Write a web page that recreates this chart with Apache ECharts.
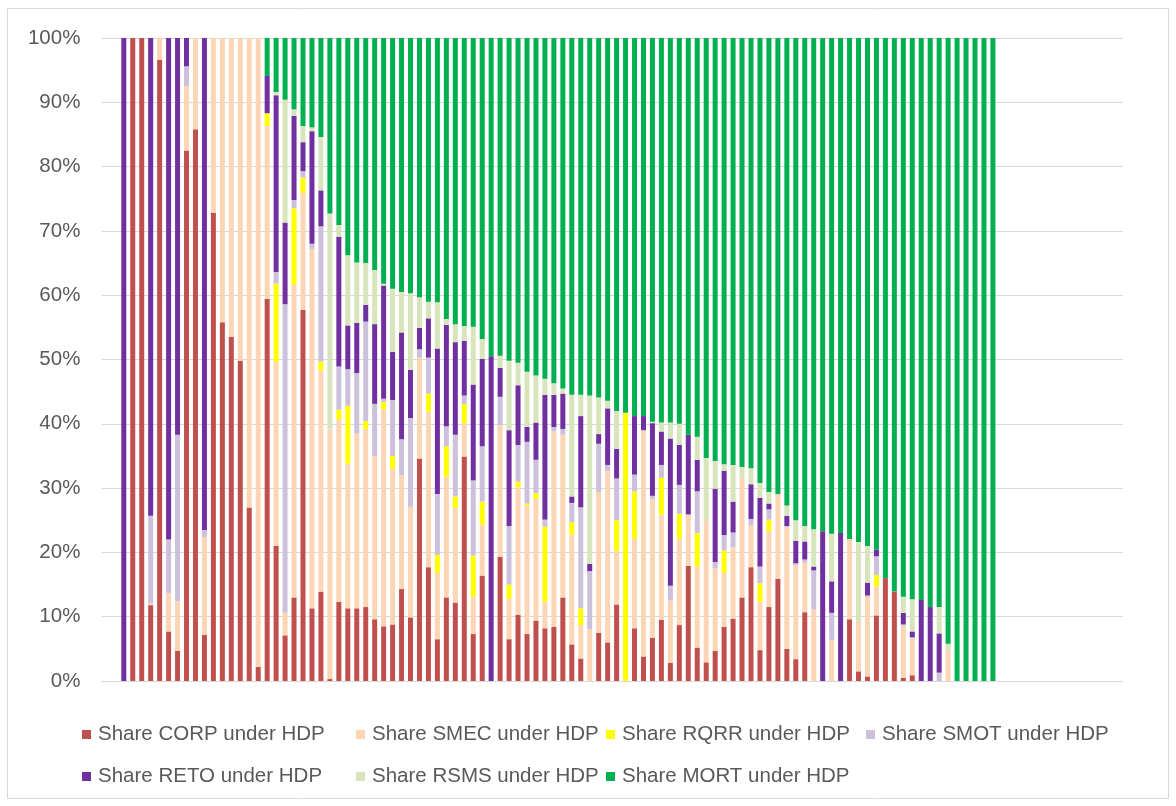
<!DOCTYPE html>
<html>
<head>
<meta charset="utf-8">
<script src="https://cdn.jsdelivr.net/npm/echarts@6/dist/echarts.min.js"></script>
<style>
html,body{margin:0;padding:0;background:#fff;}
#chart{width:1176px;height:806px;}
</style>
</head>
<body>
<div id="chart"></div>
<script>
// Series names (legend)
const seriesNames = ['Share CORP under HDP','Share SMEC under HDP','Share RQRR under HDP','Share SMOT under HDP','Share RETO under HDP','Share RSMS under HDP','Share MORT under HDP'];
const seriesColors = ['#C0504D','#FCD5B5','#FFFF00','#CCC0DA','#7030A0','#D8E4BC','#00B050'];
const yTicks = ['0%','10%','20%','30%','40%','50%','60%','70%','80%','90%','100%'];

// Values in percent, one entry per bar (98 bars)
const corp = [0,100,100,11.8,96.6,7.7,4.7,82.5,85.8,7.2,
  72.8,55.8,53.5,49.8,27.0,2.2,59.4,21.0,7.1,13.0,
  57.7,11.3,13.9,0.3,12.3,11.3,11.3,11.5,9.6,8.5,
  8.8,14.3,9.9,34.6,17.7,6.5,13.0,12.2,34.9,7.3,
  16.4,0,19.3,6.5,10.3,7.3,9.4,8.2,8.4,13.0,
  5.7,3.5,0,7.5,6.0,11.9,0,8.2,3.8,6.7,
  9.5,2.8,8.7,17.9,5.2,2.9,4.7,8.4,9.7,13.0,
  17.7,4.8,11.5,15.9,5.0,3.4,10.7,0,0,0,
  0,9.6,1.5,0.7,10.2,16.0,13.9,0.5,0.9,0,
  0,0,0,0,0,0,0,0];
const smec = [0,0,0,0.3,3.4,6.0,7.7,10.0,14.2,15.2,
  27.2,44.2,46.5,50.2,73.0,97.8,26.9,28.6,3.5,48.6,
  18.2,55.9,34.4,38.8,28.4,22.5,27.2,27.7,25.4,33.7,
  24.2,17.7,17.2,15.7,24.2,10.3,18.8,14.7,5.2,5.8,
  7.9,0,20.5,6.3,19.8,20.0,18.9,4.1,30.4,25.3,
  17.1,5.2,8.1,21.9,26.6,8.3,0,13.9,35.2,21.6,
  16.4,9.7,13.4,8.0,12.6,22.1,12.8,8.4,11.1,18.6,
  6.5,7.5,11.8,13.2,18.9,14.6,7.7,11.1,0,6.4,
  0,12.5,7.7,12.4,4.5,0,0,8.1,5.7,0,
  0,0,4.8,0,0,0,0,0];
const rqrr = [0,0,0,0,0,0,0,0,0,0,
  0,0,0,0,0,0,2.0,12.2,0,11.9,
  2.4,0,1.4,0,1.5,9.0,0,1.2,0,1.2,
  2.0,0,0,0,2.8,2.8,4.7,1.8,3.0,6.4,
  3.6,0,0,2.2,0.9,0.3,0.9,11.7,0,0,
  1.9,2.6,0,0,0,4.8,41.7,7.4,0,0,
  5.7,0,3.9,0,5.2,0,0,3.5,0,0,
  0,2.9,1.8,0,0,0,0,0,0,0,
  0,0,0,0,1.8,0,0,0,0,0,
  0,0,0,0,0,0,0,0];
const smot = [0,0,0,13.6,0,8.3,25.9,3.1,0,1.1,
  0,0,0,0,0,0,0,1.8,48.0,1.3,
  1.0,0.8,21.0,0,6.7,5.7,9.4,15.5,8.1,0.5,
  8.7,5.6,13.8,1.3,5.6,9.5,3.1,9.6,1.3,11.7,
  8.6,0,4.4,9.1,5.7,9.6,5.2,1.1,0.7,0.9,
  3.0,15.7,9.0,7.5,1.0,6.5,0,2.6,0,0.5,
  2.0,2.3,4.5,0,6.5,0,1.0,2.4,2.3,0,
  1.0,2.6,1.6,0,0.2,0.3,0.5,6.1,0,4.2,
  0,0,0,0.2,2.9,0,0,0.2,0.2,0,
  0,1.3,0,0,0,0,0,0];
const reto = [100,0,0,74.3,0,78.0,61.7,4.4,0,76.5,
  0,0,0,0,0,0,5.8,27.5,12.7,13.1,
  4.5,17.5,5.6,0,20.2,6.8,7.8,2.6,12.4,17.6,
  7.5,16.6,7.5,3.3,6.1,22.6,15.8,14.4,8.5,14.9,
  13.6,50.5,4.5,14.9,9.3,2.3,5.8,19.4,5.0,5.5,
  1.0,14.2,1.1,1.5,8.8,4.6,0,9.1,2.2,11.3,
  5.2,22.9,6.2,12.4,4.9,0,11.4,10.0,4.8,0,
  5.4,10.7,0.9,0,1.6,3.5,2.8,0.6,23.3,4.9,
  23.0,0,0,2.0,1.0,0,0,1.8,0.9,12.6,
  11.5,6.1,0,0,0,0,0,0];
const rsms = [0,0,0,0,0,0,0,0,0,0,
  0,0,0,0,0,0,0,0.5,19.1,1.0,
  2.5,0.6,8.3,33.6,1.8,10.9,9.4,6.5,8.4,0.3,
  9.8,6.3,11.9,4.8,2.6,7.2,0.9,2.8,2.3,9.0,
  3.1,0,1.9,10.8,3.5,8.6,7.3,2.5,1.8,0.8,
  15.8,3.3,26.2,5.7,1.2,5.9,0,0,0,0.2,
  1.4,2.5,3.3,0,3.6,9.7,4.3,1.0,5.7,1.7,
  2.5,2.3,1.8,0,1.6,3.2,2.4,5.8,0,7.4,
  0,0,12.4,5.7,0,0,0,2.5,5.0,0,
  0,4.1,1.0,0,0,0,0,0];
const mort = [0,0,0,0,0,0,0,0,0,0,
  0,0,0,0,0,0,5.9,8.4,9.6,11.1,
  13.7,13.9,15.4,27.3,29.1,33.8,34.9,35.0,36.1,38.2,
  39.0,39.5,39.7,40.3,41.0,41.1,43.7,44.5,44.8,44.9,
  46.8,49.5,49.4,50.2,50.5,51.9,52.5,53.0,53.7,54.5,
  55.5,55.5,55.6,55.9,56.4,58.0,58.3,58.8,58.8,59.7,
  59.8,59.8,60.0,61.7,62.0,65.3,65.8,66.3,66.4,66.7,
  66.9,69.2,70.6,70.9,72.7,75.0,75.9,76.4,76.7,77.1,
  77.0,77.9,78.4,79.0,79.6,84.0,86.1,86.9,87.3,87.4,
  88.5,88.5,94.2,100,100,100,100,100];

const seriesValues = [corp, smec, rqrr, smot, reto, rsms, mort];

// category layout: empty slots before and after the bars (as in the source plot)
const LEAD = 2, TRAIL = 14;
const barCats = corp.map((_, i) => 'B' + (i + 1));
const cats = [...Array(LEAD).fill(''), ...barCats, ...Array(TRAIL).fill('')];
const pad = arr => [...Array(LEAD).fill(null), ...arr, ...Array(TRAIL).fill(null)];

const FONT = 'Liberation Sans';
const FS = 20.5;
const TXT = '#595959';

const CW = 8.96;
const gridLeft = 101.4;
const gridRight = 1176 - (gridLeft + cats.length * CW);

const legendPos = [
  {left: 82, top: 724}, {left: 356, top: 724}, {left: 606, top: 724}, {left: 866, top: 724},
  {left: 82, top: 766}, {left: 356, top: 766}, {left: 606, top: 766}
];

const chart = echarts.init(document.getElementById('chart'), null, {renderer: 'canvas'});
chart.setOption({
  animation: false,
  backgroundColor: '#ffffff',
  textStyle: {fontFamily: FONT},
  graphic: [{
    type: 'rect', silent: true,
    shape: {x: 7.5, y: 8.5, width: 1161, height: 790},
    style: {fill: null, stroke: '#d9d9d9', lineWidth: 1}
  }],
  grid: {left: gridLeft, right: gridRight, top: 38, bottom: 125, containLabel: false},
  legend: seriesNames.map((n, i) => ({
    data: [n], left: legendPos[i].left, top: legendPos[i].top,
    orient: 'horizontal', icon: 'rect', itemWidth: 9, itemHeight: 9, padding: 0,
    selectedMode: false,
    textStyle: {fontFamily: FONT, fontSize: FS, color: TXT, padding: [0, 0, 0, 2]}
  })),
  xAxis: {
    type: 'category', data: cats, boundaryGap: true,
    axisLine: {show: true, lineStyle: {color: '#d9d9d9', width: 1}},
    axisTick: {show: false}, axisLabel: {show: false}, splitLine: {show: false}
  },
  yAxis: {
    type: 'value', min: 0, max: 100, interval: 10,
    axisLine: {show: false}, axisTick: {show: false},
    axisLabel: {
      formatter: v => yTicks[Math.round(v / 10)],
      fontFamily: FONT, fontSize: FS, color: TXT, margin: 21
    },
    splitLine: {show: true, lineStyle: {color: '#d9d9d9', width: 1}}
  },
  series: seriesNames.map((n, i) => ({
    name: n, type: 'bar', stack: 'total', barWidth: 5,
    itemStyle: {color: seriesColors[i]},
    emphasis: {disabled: true},
    data: pad(seriesValues[i])
  }))
});
</script>
</body>
</html>
